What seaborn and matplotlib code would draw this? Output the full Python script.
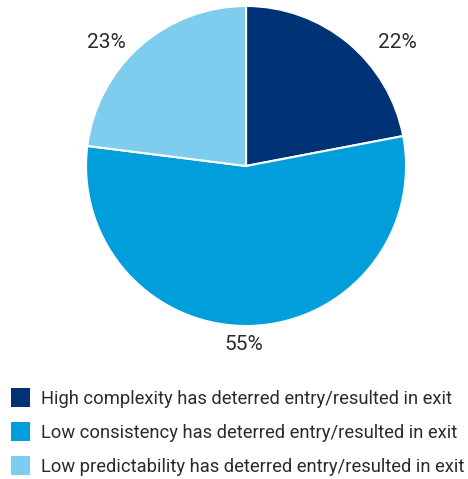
import matplotlib
matplotlib.use("Agg")
import matplotlib.pyplot as plt
import seaborn as sns
import numpy as np

sns.set_theme(style="white")
plt.rcParams["font.family"] = ["Roboto", "DejaVu Sans"]

categories = [
    "High complexity has deterred entry/resulted in exit",
    "Low consistency has deterred entry/resulted in exit",
    "Low predictability has deterred entry/resulted in exit",
]
shares = [22, 55, 23]
colors = ["#003375", "#009fdb", "#7fcdee"]
text_color = "#2b2b2b"

fig = plt.figure(figsize=(4.68, 4.79), dpi=100)
ax = fig.add_axes([0.1838, 0.3194, 0.6838, 0.6681])

wedges, _ = ax.pie(
    shares,
    colors=colors,
    startangle=90,
    counterclock=False,
    wedgeprops=dict(edgecolor="white", linewidth=1.5),
    radius=1.0,
)
ax.set_xlim(-1, 1)
ax.set_ylim(-1, 1)
ax.set_aspect("equal")

# percentage labels anchored to each wedge's rim point at its mid-angle
for w, v in zip(wedges, shares):
    mid = np.deg2rad((w.theta1 + w.theta2) / 2)
    x, y = np.cos(mid), np.sin(mid)
    if abs(x) < 0.2:
        off = (-7, -19)
    elif x > 0:
        off = (49, 0)
    else:
        off = (-34, 3)
    ax.annotate(f"{v}%", (x, y), xytext=off, textcoords="offset pixels",
                ha="center", va="center", fontsize=15,
                color=text_color, annotation_clip=False)

leg = fig.legend(
    wedges, categories,
    loc="upper left", bbox_to_anchor=(11 / 468, 1 - 388 / 479),
    frameon=False, labelcolor=text_color,
    prop=dict(size=13.2),
    handlelength=1.02, handleheight=1.2, handletextpad=0.6,
    labelspacing=0.8, borderpad=0, borderaxespad=0,
)
for h in leg.legend_handles:
    h.set_linewidth(0)

fig.savefig("out.png", dpi=100)
